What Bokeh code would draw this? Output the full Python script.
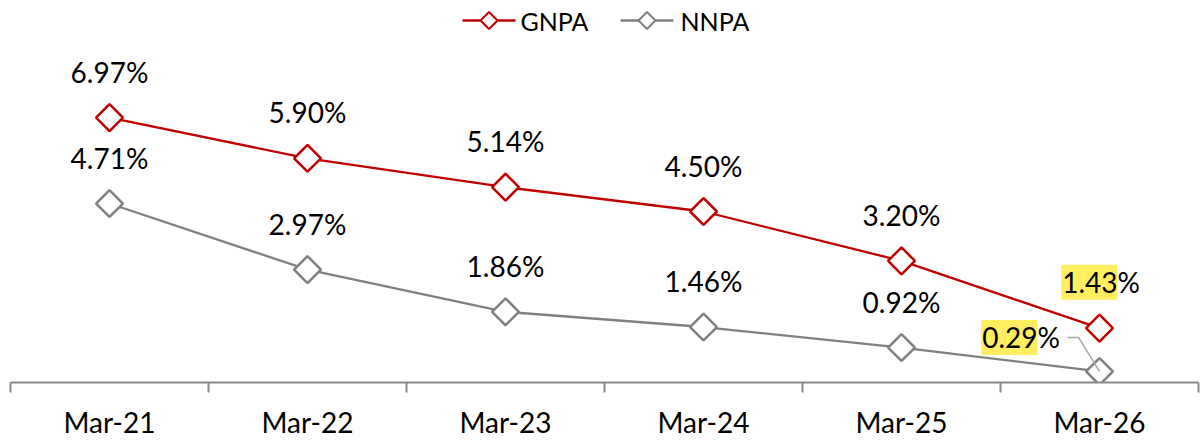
import math
from bokeh.plotting import figure
from bokeh.models import ColumnDataSource, FixedTicker, Range1d
from bokeh.core.properties import value
from bokeh.embed import file_html
from bokeh.resources import INLINE

# ---- data ----
categories = ["Mar-21", "Mar-22", "Mar-23", "Mar-24", "Mar-25", "Mar-26"]
gnpa = [6.97, 5.90, 5.14, 4.50, 3.20, 1.43]
nnpa = [4.71, 2.97, 1.86, 1.46, 0.92, 0.29]
series_names = ["GNPA", "NNPA"]

RED = "#C00000"
GREY = "#808080"
FONT = "Lato"

FRAME_W, FRAME_H = 1188, 382
PX_PER_UNIT = 38.0
Y_END = FRAME_H / PX_PER_UNIT
X_START, X_END = -0.5, len(categories) - 0.5
ux = (X_END - X_START) / FRAME_W   # data units per pixel (x)
uy = 1.0 / PX_PER_UNIT             # data units per pixel (y)


def px_to_x(px):  # pixel from frame left -> data x
    return X_START + px * ux


def px_to_y(py):  # pixel from frame top -> data y
    return Y_END - py * uy


p = figure(frame_width=FRAME_W, frame_height=FRAME_H,
           x_range=Range1d(X_START, X_END), y_range=Range1d(0, Y_END),
           output_backend="svg", toolbar_location=None,
           min_border_left=10, min_border_right=2, min_border_top=0, min_border_bottom=0)
p.outline_line_color = None
p.grid.visible = False
p.yaxis.visible = False
p.background_fill_color = "white"
p.border_fill_color = "white"

xs = list(range(len(categories)))

src_g = ColumnDataSource(dict(x=xs, y=gnpa))
src_n = ColumnDataSource(dict(x=xs, y=nnpa))

p.line("x", "y", source=src_g, line_color=RED, line_width=2.3)
p.scatter("x", "y", source=src_g, marker="square", angle=math.pi / 4, size=19,
          fill_color="white", line_color=RED, line_width=2.5)
p.line("x", "y", source=src_n, line_color=GREY, line_width=2.3)
p.scatter("x", "y", source=src_n, marker="square", angle=math.pi / 4, size=19,
          fill_color="white", line_color=GREY, line_width=2.5)

# leader line for last NNPA label
lx, ly = xs[-1], nnpa[-1]
p.line([lx - 32 * ux, lx - 21 * ux, lx], [ly + 34 * uy, ly + 34 * uy, ly],
       line_color="#A6A6A6", line_width=1.5)

# data labels (all but last)
n_last = len(categories) - 1
for vals in (gnpa, nnpa):
    s = ColumnDataSource(dict(x=xs[:n_last], y=vals[:n_last],
                              t=[f"{v:.2f}%" for v in vals[:n_last]]))
    p.text("x", "y", text="t", source=s, text_align="center", text_baseline="alphabetic",
           y_offset=-46, text_font=value(FONT), text_font_size="28px", text_color="black")

# highlighted last labels
HL = "#FFEF60"
for vals, dx, dy in ((gnpa, 18, -46), (nnpa, -62, -34)):
    v = vals[-1]
    s1 = ColumnDataSource(dict(x=[xs[-1]], y=[v], t=[f"{v:.2f}"]))
    s2 = ColumnDataSource(dict(x=[xs[-1]], y=[v], t=["%"]))
    p.text("x", "y", text="t", source=s1, text_align="right", text_baseline="alphabetic",
           x_offset=dx, y_offset=dy, text_font=value(FONT), text_font_size="28px",
           text_color="black", background_fill_color=HL,
           padding=dict(left=1, right=0, top=7, bottom=7))
    p.text("x", "y", text="t", source=s2, text_align="left", text_baseline="alphabetic",
           x_offset=dx, y_offset=dy, text_font=value(FONT), text_font_size="28px",
           text_color="black")

# x axis
ax = p.xaxis[0]
ax.ticker = FixedTicker(ticks=xs, minor_ticks=[i - 0.5 for i in range(len(categories) + 1)])
ax.major_label_overrides = {i: c for i, c in enumerate(categories)}
ax.axis_line_color = "#898989"
ax.axis_line_width = 2
ax.major_tick_line_color = None
ax.major_tick_out = 10
ax.major_tick_in = 0
ax.minor_tick_line_color = "#898989"
ax.minor_tick_line_width = 2
ax.minor_tick_out = 10
ax.minor_tick_in = 0
ax.major_label_standoff = 12
ax.major_label_text_font = FONT
ax.major_label_text_font_size = "28px"
ax.major_label_text_color = "black"

# legend (drawn manually so that markers are true diamonds)
leg_y = px_to_y(20)
leg_line_px = [(452, 505), (610, 663)]      # line start/end, px from frame left
leg_text_px = [510, 670]
for name, col, (a, b), tx in zip(series_names, [RED, GREY], leg_line_px, leg_text_px):
    p.line([px_to_x(a), px_to_x(b)], [leg_y, leg_y], line_color=col, line_width=2.3)
    p.scatter([px_to_x((a + b) / 2)], [leg_y], marker="square", angle=math.pi / 4, size=12,
              fill_color="white", line_color=col, line_width=2)
    p.text([px_to_x(tx)], [leg_y], text=[name], text_align="left", text_baseline="middle",
           text_font=value(FONT), text_font_size="25px", text_color="black")

open("out.html", "w").write(file_html(p, INLINE))
